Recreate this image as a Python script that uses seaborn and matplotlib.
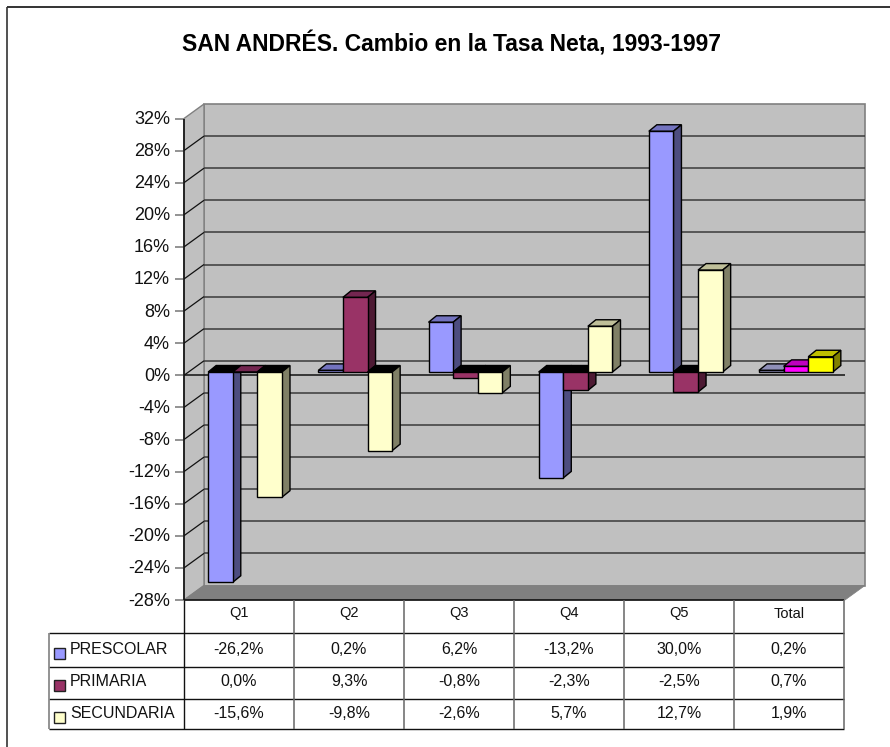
from matplotlib.patches import Polygon, Rectangle
from matplotlib.transforms import IdentityTransform

import pandas as pd
import matplotlib
matplotlib.use('Agg')
import matplotlib.pyplot as plt
import seaborn as sns

# values
categories = ['Q1', 'Q2', 'Q3', 'Q4', 'Q5', 'Total']
prescolar = [-26.2, 0.2, 6.2, -13.2, 30.0, 0.2]
primaria = [0.0, 9.3, -0.8, -2.3, -2.5, 0.7]
secundaria = [-15.6, -9.8, -2.6, 5.7, 12.7, 1.9]
series_names = ['PRESCOLAR', 'PRIMARIA', 'SECUNDARIA']
y_ticks = list(range(-28, 33, 4))

W, H = 890, 747
FRONT_L, FRONT_R = 184, 845
Y_TOP, Y_BOT = 118.5, 600   # pixel rows of 32% and -28% on the front plane
WALL_DX, WALL_DY = 20, 14.5
BAR_DX, BAR_DY = 8, 6.5
INK = '#111111'

# front, side, top colours; the Total bars use their own palette
colors = {'PRESCOLAR': ('#9999ff', '#4d4d80', '#7373bf'),
          'PRIMARIA': ('#993366', '#4d1a33', '#732650'),
          'SECUNDARIA': ('#ffffcc', '#808066', '#bfbf99')}
total_colors = {'PRESCOLAR': ('#9999cc', '#4d4d66', '#8f8fb8'),
                'PRIMARIA': ('#ff00ff', '#800080', '#bf00bf'),
                'SECUNDARIA': ('#ffff00', '#808000', '#bfbf00')}


def px(x, y):
    # pixel position measured from the top left corner, to display coords
    return (x, H - y)


def px_poly(points, **kw):
    return Polygon([px(*p) for p in points], closed=True, transform=IdentityTransform(),
                   clip_on=False, **kw)


def px_line(ax, x0, y0, x1, y1, color=INK, lw=1.0, zorder=2):
    (a, b), (c, d) = px(x0, y0), px(x1, y1)
    ax.plot([a, c], [b, d], color=color, lw=lw, zorder=zorder, clip_on=False,
            transform=IdentityTransform(), solid_capstyle='butt')


def pct(v):
    return f'{v:.1f}%'.replace('.', ',')


def draw_walls(ax, step):
    wall = [(FRONT_L + WALL_DX, Y_TOP - WALL_DY), (FRONT_R + WALL_DX, Y_TOP - WALL_DY),
            (FRONT_R + WALL_DX, Y_BOT - WALL_DY), (FRONT_L + WALL_DX, Y_BOT - WALL_DY)]
    ax.add_patch(px_poly(wall, facecolor='#c0c0c0', edgecolor='#808080', lw=1.2, zorder=0))
    left = [(FRONT_L, Y_TOP), (FRONT_L + WALL_DX, Y_TOP - WALL_DY),
            (FRONT_L + WALL_DX, Y_BOT - WALL_DY), (FRONT_L, Y_BOT)]
    ax.add_patch(px_poly(left, facecolor='#c0c0c0', edgecolor='#808080', lw=1.0, zorder=0))
    floor = [(FRONT_L, Y_BOT), (FRONT_R, Y_BOT), (FRONT_R + WALL_DX, Y_BOT - WALL_DY),
             (FRONT_L + WALL_DX, Y_BOT - WALL_DY)]
    ax.add_patch(px_poly(floor, facecolor='#808080', edgecolor='#808080', lw=0.5, zorder=0.5))

    for i, t in enumerate(y_ticks):
        y = Y_BOT - i * step
        if 0 < i < len(y_ticks) - 1:
            px_line(ax, FRONT_L + WALL_DX, y - WALL_DY, FRONT_R + WALL_DX, y - WALL_DY,
                    color='#3a3a3a', lw=1.1, zorder=1)
            px_line(ax, FRONT_L, y, FRONT_L + WALL_DX, y - WALL_DY, color=INK, lw=0.9, zorder=1)
        px_line(ax, FRONT_L - 9, y, FRONT_L, y, color='#808080', lw=1.2, zorder=1)
        ax.text(*px(FRONT_L - 14, y + 1), f'{t}%', transform=IdentityTransform(), ha='right',
                va='center', fontsize=13, color=INK)
    px_line(ax, FRONT_L, Y_TOP, FRONT_L, Y_BOT, lw=1.2, zorder=1)
    # zero line of the front plane
    y0 = Y_BOT - 7 * step
    px_line(ax, FRONT_L, y0, FRONT_R, y0, lw=1.1, zorder=1.5)


def draw_bar_faces(ax):
    # seaborn draws the front faces, the 3d top and side come from each patch
    z = 3
    n_cat = len(categories)
    for cat in range(n_cat):
        for name, container in zip(series_names, ax.containers):
            bar = container.patches[cat]
            pal = total_colors if cat == n_cat - 1 else colors
            front, side, top = pal[name]
            x0, x1 = bar.get_x(), bar.get_x() + bar.get_width()
            val = bar.get_height() + bar.get_y()
            (ax0, ay_zero) = ax.transData.transform((x0, 0))
            (ax1, ay_val) = ax.transData.transform((x1, val))
            up = max(ay_zero, ay_val)
            low = min(ay_zero, ay_val)
            top_face = [(ax0, up), (ax1, up), (ax1 + BAR_DX, up + BAR_DY), (ax0 + BAR_DX, up + BAR_DY)]
            side_face = [(ax1, low), (ax1, up), (ax1 + BAR_DX, up + BAR_DY), (ax1 + BAR_DX, low + BAR_DY)]
            # a negative bar hangs from the axis, its top reads as black
            top_col = '#000000' if val < 0 else top
            for pts, col in ((top_face, top_col), (side_face, side)):
                ax.add_patch(Polygon(pts, closed=True, transform=IdentityTransform(), clip_on=False,
                                     facecolor=col, edgecolor='black', lw=1.0, zorder=z))
            bar.set_facecolor(front)
            bar.set_edgecolor('black')
            bar.set_linewidth(1.0)
            bar.set_zorder(z + 0.5)
            bar.set_clip_on(False)
            z += 1


def draw_table(ax):
    cols = [184, 294, 404, 514, 624, 734, 844]
    rows = [600, 633, 667, 699, 729]
    left = 49
    for y in rows[1:]:
        px_line(ax, left, y, cols[-1], y, lw=1.0, color=INK)
    px_line(ax, cols[0], rows[0], cols[-1], rows[0], lw=1.2, color=INK)
    px_line(ax, left, rows[1], left, rows[-1], color='#808080', lw=1.2)
    px_line(ax, cols[0], rows[0], cols[0], rows[-1], lw=1.0, color=INK)
    for x in cols[1:]:
        px_line(ax, x, rows[0], x, rows[-1], color='#666666', lw=1.1)

    for i, cat in enumerate(categories):
        xc = (cols[i] + cols[i + 1]) / 2
        ax.text(*px(xc, 613.5), cat, transform=IdentityTransform(), ha='center', va='center',
                fontsize=10.5, color=INK)
    table_rows = [prescolar, primaria, secundaria]
    text_y = [649.5, 681.5, 713.5]
    swatch_y = [654, 686, 718]
    for name, vals, ty, sy in zip(series_names, table_rows, text_y, swatch_y):
        ax.add_patch(Rectangle(px(54, sy + 5), 11, 11, transform=IdentityTransform(), clip_on=False,
                               facecolor=colors[name][0], edgecolor='#222222', lw=1.0, zorder=3))
        ax.text(*px(70, ty), name, transform=IdentityTransform(), ha='left', va='center',
                fontsize=11.5, color=INK)
        for i, v in enumerate(vals):
            xc = (cols[i] + cols[i + 1]) / 2
            ax.text(*px(xc, ty), pct(v), transform=IdentityTransform(), ha='center', va='center',
                    fontsize=11.5, color=INK)


def main():
    sns.set_theme(style='white')
    plt.rcParams['font.family'] = ['Liberation Sans', 'DejaVu Sans']

    df = pd.DataFrame({'PRESCOLAR': prescolar, 'PRIMARIA': primaria, 'SECUNDARIA': secundaria,
                       'cuartil': categories})
    long_df = df.melt(id_vars='cuartil', var_name='nivel', value_name='cambio')

    fig = plt.figure(figsize=(W / 100, H / 100), dpi=100, facecolor='white')

    # axes sits inside the depth of the box: 6 px right of the front plane, bars start at 0% = row 372
    step = (Y_BOT - Y_TOP) / 15
    per_pct = step / 4
    zero_row = 372
    ax_l, ax_r = FRONT_L + 6, FRONT_R + 6
    ax_b = zero_row + 28 * per_pct
    ax_t = zero_row - 32 * per_pct
    ax = fig.add_axes([ax_l / W, 1 - ax_b / H, (ax_r - ax_l) / W, (ax_b - ax_t) / H])

    sns.barplot(data=long_df, x='cuartil', y='cambio', hue='nivel', order=categories,
                hue_order=series_names, palette=[colors[n][0] for n in series_names],
                width=0.67, gap=0, legend=False, errorbar=None, ax=ax)
    ax.set_xlim(-0.5, 5.5)
    ax.set_ylim(-28, 32)
    ax.axis('off')

    draw_walls(ax, step)
    draw_bar_faces(ax)
    draw_table(ax)

    # only the top and left of the chart frame are inside the picture
    px_line(ax, 7, 6.5, W, 6.5, color='#333333', lw=1.4)
    px_line(ax, 7, 6.5, 7, H, color='#333333', lw=1.2)

    ax.text(*px(451, 44), 'SAN ANDRÉS. Cambio en la Tasa Neta, 1993-1997', transform=IdentityTransform(),
            ha='center', va='center', fontsize=16.5, fontweight='bold', color='black')

    fig.savefig('out.png', dpi=100)


if __name__ == '__main__':
    main()
